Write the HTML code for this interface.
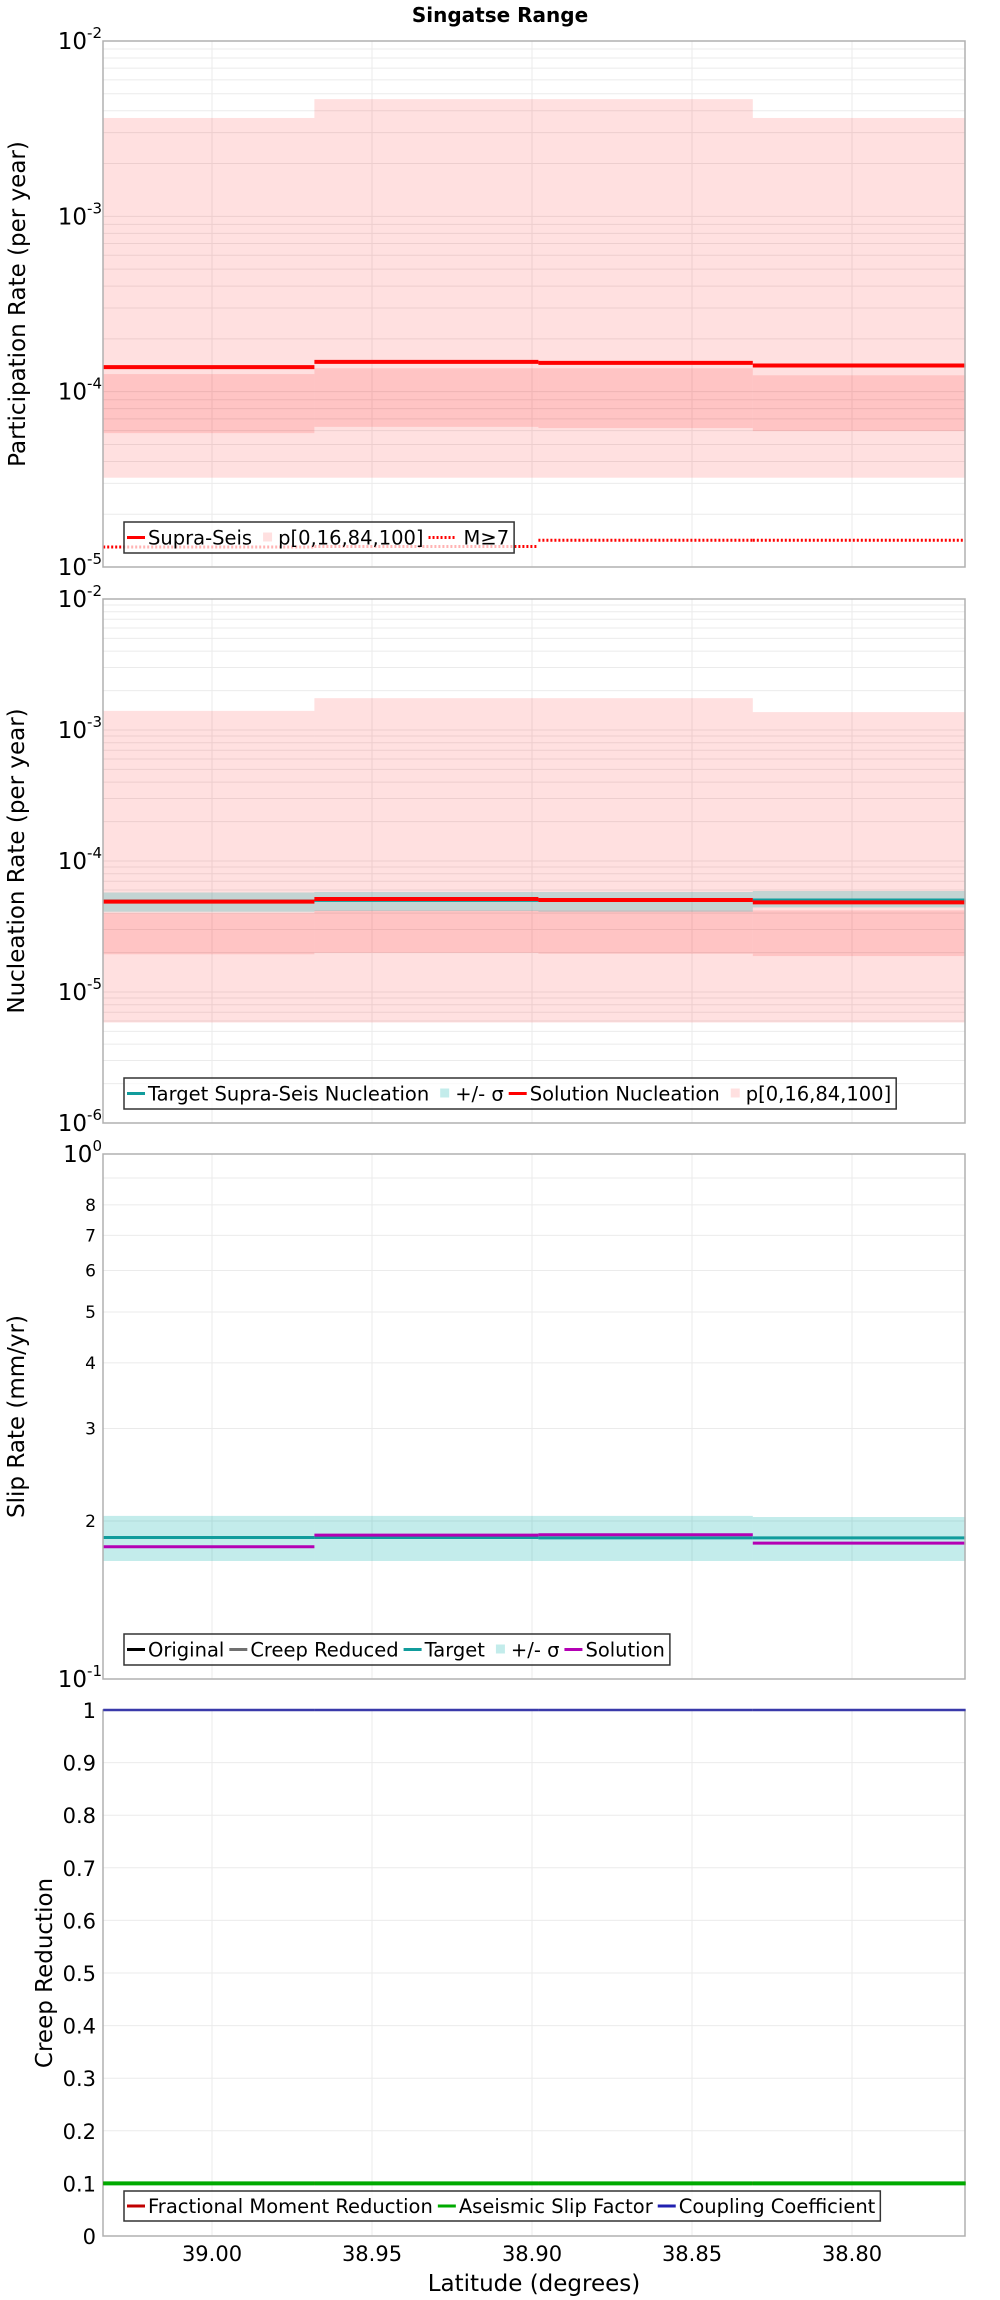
<!DOCTYPE html>
<html><head><meta charset="utf-8"><title>Singatse Range</title>
<style>
html,body{margin:0;padding:0;background:#fff;}
svg{display:block;font-family:"DejaVu Sans","Liberation Sans",sans-serif;}
</style></head>
<body>
<svg id="chart" width="1000" height="2300" viewBox="0 0 1000 2300" xmlns="http://www.w3.org/2000/svg">
<text x="500" y="22" text-anchor="middle" font-weight="bold" font-size="20">Singatse Range</text>
</svg>
<script>
// ---- data ----
const segEdges = [39.034, 38.968, 38.898, 38.831, 38.7645];
const xTickVals = [39.00, 38.95, 38.90, 38.85, 38.80];
const xTickLabels = ["39.00", "38.95", "38.90", "38.85", "38.80"];

const partMax = [3.64e-3, 4.66e-3, 4.66e-3, 3.64e-3];
const partP84 = [1.26e-4, 1.36e-4, 1.36e-4, 1.24e-4];
const partP16 = [5.8e-5, 6.3e-5, 6.2e-5, 5.96e-5];
const partMin = [3.23e-5, 3.23e-5, 3.23e-5, 3.23e-5];
const partSol = [1.38e-4, 1.48e-4, 1.46e-4, 1.41e-4];
const partM7 = [1.30e-5, 1.31e-5, 1.42e-5, 1.42e-5];

const nuclMax = [1.40e-3, 1.75e-3, 1.75e-3, 1.37e-3];
const nuclP84 = [4.0e-5, 4.2e-5, 4.2e-5, 4.2e-5];
const nuclP16 = [1.94e-5, 1.99e-5, 1.96e-5, 1.88e-5];
const nuclMin = [5.85e-6, 5.85e-6, 5.85e-6, 5.85e-6];
const nuclTargetHi = [5.75e-5, 5.8e-5, 5.8e-5, 5.9e-5];
const nuclTargetLo = [4.1e-5, 4.15e-5, 4.1e-5, 4.42e-5];
const nuclTarget = [4.95e-5, 5.0e-5, 5.0e-5, 5.04e-5];
const nuclSol = [4.9e-5, 5.13e-5, 5.04e-5, 4.83e-5];

const slipHi = [2.045, 2.045, 2.045, 2.035];
const slipLo = [1.678, 1.678, 1.678, 1.678];
const slipTarget = [1.86, 1.86, 1.857, 1.857];
const slipSol = [1.786, 1.88, 1.883, 1.815];
const slipMinorLabels = ["2", "3", "4", "5", "6", "7", "8"];

const creepFrac = [0.1, 0.1, 0.1, 0.1];
const creepAseis = [0.1, 0.1, 0.1, 0.1];
const creepCoupling = [1, 1, 1, 1];
const creepTickLabels = ["0", "0.1", "0.2", "0.3", "0.4", "0.5", "0.6", "0.7", "0.8", "0.9", "1"];

// ---- layout ----
const NS = "http://www.w3.org/2000/svg";
const svg = document.getElementById('chart');
const X0 = 103, X1 = 965;
function xs(lat) { return 212 + (39.00 - lat) * 3200; }
function mk(tag, attrs, parent) {
  const e = document.createElementNS(NS, tag);
  for (const k in attrs) e.setAttribute(k, attrs[k]);
  (parent || svg).appendChild(e);
  return e;
}
function logScale(top, bot, lmax, lmin) {
  return v => top + (lmax - Math.log10(v)) / (lmax - lmin) * (bot - top);
}
function linScale(top, bot, vmax, vmin) {
  return v => top + (vmax - v) / (vmax - vmin) * (bot - top);
}
function grid(g, top, bot, ys) {
  ys.forEach(y => {
    const l = mk('line', {x1: X0, x2: X1, y1: y, y2: y, stroke: '#ebebeb', 'stroke-width': 1}, g);
    
    
  });
  xTickVals.forEach(v => {
    const l = mk('line', {x1: xs(v), x2: xs(v), y1: top, y2: bot, stroke: '#ebebeb', 'stroke-width': 1}, g);
    
    
  });
}
function bands(g, lo, hi, fill, name) {
  for (let i = 0; i < 4; i++) {
    const x = xs(segEdges[i]), x2 = xs(segEdges[i + 1]);
    const r = mk('rect', {x: x, width: x2 - x, y: hi[i], height: lo[i] - hi[i], fill: fill}, g);
    
    
  }
}
function steps(g, ys, color, w, name, dash) {
  for (let i = 0; i < 4; i++) {
    const a = {x1: xs(segEdges[i]), x2: xs(segEdges[i + 1]), y1: ys[i], y2: ys[i], stroke: color, 'stroke-width': w};
    if (dash) a['stroke-dasharray'] = dash;
    const l = mk('line', a, g);
    
    
  }
}
function frame(g, top, bot) {
  const r = mk('rect', {x: X0, y: top, width: X1 - X0, height: bot - top, fill: 'none', stroke: '#b0b0b0', 'stroke-width': 1.5}, g);
  
  
}
function powLabel(g, y, exp) {
  const t = mk('text', {x: 102, y: y + 8, 'text-anchor': 'end', 'font-size': 23}, g);
  
  
  const a = mk('tspan', {}, t); a.textContent = '10';
  const b = mk('tspan', {'font-size': 15, dy: -11}, t); b.textContent = exp;
}
function yTitle(g, x, y, txt) {
  const t = mk('text', {x: x, y: y, 'text-anchor': 'middle', 'font-size': 23, transform: `rotate(-90 ${x} ${y})`, 'dominant-baseline': 'central'}, g);
  
  
  t.textContent = txt;
}
function legend(g, x, y, h, items) {
  const lg = mk('g', {}, g);
  
  
  const box = mk('rect', {x: x, y: y, height: h, width: 10, fill: 'rgba(255,255,255,0.7)', stroke: '#333', 'stroke-width': 1.5}, lg);
  let cx = x + 3;
  const cy = y + h / 2;
  items.forEach(it => {
    const e = mk('g', {}, lg);
    
    
    if (it.type === 'sq') {
      mk('rect', {x: cx + 6, y: cy - 5, width: 9, height: 9, fill: it.color}, e);
    } else {
      const a = {x1: cx, x2: cx + 18, y1: cy, y2: cy, stroke: it.color, 'stroke-width': 3};
      if (it.dash) { a['stroke-dasharray'] = '2 2'; a.x2 = cx + 27; }
      mk('line', a, e);
    }
    cx += it.dash ? 35 : 21;
    const t = mk('text', {x: cx, y: cy + 7, 'font-size': 19.5}, e);
    t.textContent = it.label;
    cx += t.getComputedTextLength() + 5;
  });
  box.setAttribute('width', cx - x);
}

// ---- Panel 1: participation ----
(function () {
  const top = 41, bot = 567;
  const y = logScale(top, bot, -2, -5);
  const g = mk('g', {});  
  const gl = [];
  for (let e = -5; e < -2; e++) for (let k = 1; k <= 9; k++) gl.push(y(k * Math.pow(10, e)));
  grid(g, top, bot, gl);
  bands(g, partMin.map(y), partMax.map(y), 'rgba(255,0,0,0.12)', 'range-band-p0-100');
  bands(g, partP16.map(y), partP84.map(y), 'rgba(255,0,0,0.12)', 'range-band-p16-84');
  steps(g, partSol.map(y), '#ff0000', 4, 'supra-seis-line');
  steps(g, partM7.map(y), '#ff0000', 3, 'm7-line', '2 2');
  frame(g, top, bot);
  [-2, -3, -4, -5].forEach(e => powLabel(g, y(Math.pow(10, e)), String(e)));
  yTitle(g, 18, (top + bot) / 2, 'Participation Rate (per year)');
  legend(g, 124, 522, 31, [
    {color: '#ff0000', label: 'Supra-Seis'},
    {type: 'sq', color: 'rgba(255,0,0,0.12)', label: 'p[0,16,84,100]'},
    {color: '#ff0000', dash: true, label: 'M≥7'}
  ]);
})();

// ---- Panel 2: nucleation ----
(function () {
  const top = 599, bot = 1123;
  const y = logScale(top, bot, -2, -6);
  const g = mk('g', {});  
  const gl = [];
  for (let e = -6; e < -2; e++) for (let k = 1; k <= 9; k++) gl.push(y(k * Math.pow(10, e)));
  grid(g, top, bot, gl);
  bands(g, nuclMin.map(y), nuclMax.map(y), 'rgba(255,0,0,0.12)', 'range-band-p0-100');
  bands(g, nuclP16.map(y), nuclP84.map(y), 'rgba(255,0,0,0.12)', 'range-band-p16-84');
  bands(g, nuclTargetLo.map(y), nuclTargetHi.map(y), 'rgba(0,175,170,0.235)', 'target-sigma-band');
  steps(g, nuclTarget.map(y), '#119c9c', 3, 'target-nucleation-line');
  steps(g, nuclSol.map(y), '#ff0000', 4, 'solution-nucleation-line');
  frame(g, top, bot);
  [-2, -3, -4, -5, -6].forEach(e => powLabel(g, y(Math.pow(10, e)), String(e)));
  yTitle(g, 17, (top + bot) / 2, 'Nucleation Rate (per year)');
  legend(g, 124, 1078, 31, [
    {color: '#119c9c', label: 'Target Supra-Seis Nucleation'},
    {type: 'sq', color: 'rgba(0,175,170,0.235)', label: '+/- σ'},
    {color: '#ff0000', label: 'Solution Nucleation'},
    {type: 'sq', color: 'rgba(255,0,0,0.12)', label: 'p[0,16,84,100]'}
  ]);
})();

// ---- Panel 3: slip rate ----
(function () {
  const top = 1154, bot = 1679;
  const y = logScale(top, bot, 1, 0);
  const g = mk('g', {});  
  const gl = [];
  for (let k = 2; k <= 9; k++) gl.push(y(k));
  grid(g, top, bot, gl);
  bands(g, slipLo.map(y), slipHi.map(y), 'rgba(0,175,170,0.235)', 'target-sigma-band');
  steps(g, slipTarget.map(y), '#119c9c', 3, 'target-slip-line');
  steps(g, slipSol.map(y), '#b400b4', 3, 'solution-slip-line');
  frame(g, top, bot);
  powLabel(g, y(10), '0');
  powLabel(g, y(1), '-1');
  slipMinorLabels.forEach(s => {
    const t = mk('text', {x: 96, y: y(+s) + 6, 'text-anchor': 'end', 'font-size': 17}, g);
    
    
    t.textContent = s;
  });
  yTitle(g, 17, (top + bot) / 2, 'Slip Rate (mm/yr)');
  legend(g, 124, 1634, 31, [
    {color: '#000000', label: 'Original'},
    {color: '#707070', label: 'Creep Reduced'},
    {color: '#119c9c', label: 'Target'},
    {type: 'sq', color: 'rgba(0,175,170,0.235)', label: '+/- σ'},
    {color: '#b400b4', label: 'Solution'}
  ]);
})();

// ---- Panel 4: creep reduction ----
(function () {
  const top = 1710, bot = 2236;
  const y = linScale(top, bot, 1, 0);
  const g = mk('g', {});  
  const gl = creepTickLabels.map(s => y(+s));
  grid(g, top, bot, gl);
  frame(g, top, bot);
  steps(g, creepFrac.map(y), '#c00000', 3, 'fractional-moment-line');
  steps(g, creepAseis.map(y), '#00aa00', 4, 'aseismic-slip-line');
  steps(g, creepCoupling.map(y), '#3a3aaa', 2.5, 'coupling-coefficient-line');
  creepTickLabels.forEach(s => {
    const t = mk('text', {x: 96, y: y(+s) + 8, 'text-anchor': 'end', 'font-size': 21}, g);
    
    
    t.textContent = s;
  });
  yTitle(g, 45, (top + bot) / 2, 'Creep Reduction');
  legend(g, 124, 2191, 30, [
    {color: '#c00000', label: 'Fractional Moment Reduction'},
    {color: '#00aa00', label: 'Aseismic Slip Factor'},
    {color: '#2020b0', label: 'Coupling Coefficient'}
  ]);
  xTickVals.forEach((v, i) => {
    const t = mk('text', {x: xs(v), y: 2261, 'text-anchor': 'middle', 'font-size': 21}, g);
    
    
    t.textContent = xTickLabels[i];
  });
  const xt = mk('text', {x: (X0 + X1) / 2, y: 2291, 'text-anchor': 'middle', 'font-size': 23}, g);
  
  
  xt.textContent = 'Latitude (degrees)';
})();
</script>
</body></html>
